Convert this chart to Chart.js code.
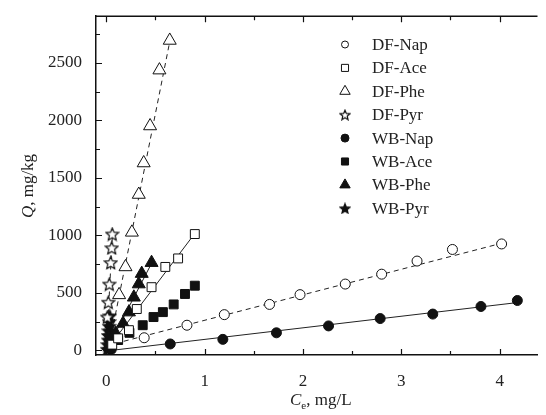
<!DOCTYPE html>
<html>
<head>
<meta charset="utf-8">
<script src="https://cdn.jsdelivr.net/npm/chart.js@4/dist/chart.umd.min.js"></script>
<style>
  html, body { margin: 0; padding: 0; background: #fff; }
  #wrap { width: 546px; height: 415px; position: relative; }
</style>
</head>
<body>
<div id="wrap"><canvas id="myChart" width="546" height="415"></canvas></div>
<script>
// data (Ce mg/L, Q mg/kg)
const dfNapX = [0.385, 0.82, 1.20, 1.66, 1.97, 2.43, 2.80, 3.16, 3.52, 4.02];
const dfNapY = [110, 219, 311, 400, 485, 577, 663, 777, 878, 926];
const dfAceX = [0.06, 0.12, 0.23, 0.31, 0.46, 0.60, 0.73, 0.90];
const dfAceY = [50, 105, 176, 360, 550, 726, 800, 1012];
const dfPheX = [0.13, 0.195, 0.26, 0.33, 0.38, 0.445, 0.54, 0.645];
const dfPheY = [483, 726, 1027, 1356, 1630, 1952, 2438, 2696];
const dfPyrX = [0.01, 0.02, 0.03, 0.045, 0.055, 0.06];
const dfPyrY = [290, 419, 577, 763, 892, 1012];
const wbNapX = [0.05, 0.65, 1.185, 1.73, 2.26, 2.785, 3.32, 3.81, 4.18];
const wbNapY = [8, 56, 96, 153, 213, 277, 316, 382, 434];
const wbAceX = [0.03, 0.12, 0.235, 0.37, 0.48, 0.575, 0.685, 0.80, 0.90];
const wbAceY = [30, 90, 153, 219, 290, 333, 400, 491, 563];
const wbPheX = [0.03, 0.06, 0.095, 0.17, 0.23, 0.28, 0.33, 0.36, 0.46];
const wbPheY = [40, 100, 148, 234, 333, 462, 577, 668, 763];
const wbPyrX = [0.01, 0.015, 0.02, 0.02, 0.025, 0.03, 0.03, 0.035];
const wbPyrY = [10, 50, 90, 130, 170, 210, 250, 300];

// fitted lines, two ends each
const fitDfNapX = [0, 4.02], fitDfNapY = [40, 932];
const fitWbNapX = [0, 4.22], fitWbNapY = [-5, 420];
const fitDfAceX = [0, 0.92], fitDfAceY = [0, 1040];
const fitDfPheX = [0.02, 0.66], fitDfPheY = [0, 2750];
const fitWbPheX = [0, 0.48], fitWbPheY = [0, 790];
const fitDfPyrX = [0, 0.065], fitDfPyrY = [0, 1050];
const fitWbPyrX = [0, 0.04], fitWbPyrY = [0, 320];

const xTicks = [0, 1, 2, 3, 4];
const yTicks = [0, 500, 1000, 1500, 2000, 2500];

const legendNames = ['DF-Nap', 'DF-Ace', 'DF-Phe', 'DF-Pyr', 'WB-Nap', 'WB-Ace', 'WB-Phe', 'WB-Pyr'];

const pts = (xs, ys) => xs.map((x, i) => ({ x: x, y: ys[i] }));

// 5 point star as a small canvas
function makeStar(size, filled) {
    const c = document.createElement('canvas');
    c.width = size; c.height = size;
    const g = c.getContext('2d');
    const cx = size / 2, cy = size / 2 + 0.6;
    const R = size / 2 - 0.8, r = R * 0.45;
    g.beginPath();
    for (let i = 0; i < 10; i++) {
        const rad = (i % 2 === 0) ? R : r;
        const a = -Math.PI / 2 + i * Math.PI / 5;
        const px = cx + rad * Math.cos(a), py = cy + rad * Math.sin(a);
        if (i === 0) g.moveTo(px, py); else g.lineTo(px, py);
    }
    g.closePath();
    g.fillStyle = filled ? '#111' : '#fff';
    g.fill();
    g.lineWidth = 1.2;
    g.strokeStyle = '#111';
    g.stroke();
    return c;
}
const starOpen = makeStar(15, false);
const starFilled = makeStar(15, true);
const starOpenSmall = makeStar(12, false);
const starFilledSmall = makeStar(12, true);

function markers(label, xs, ys, style, filled, radius) {
    return {
        label: label,
        data: pts(xs, ys),
        showLine: false,
        pointStyle: style,
        pointRadius: radius,
        pointBorderWidth: 1,
        pointBorderColor: '#111',
        pointBackgroundColor: filled ? '#111' : '#fff'
    };
}
function fitLine(xs, ys, dashed) {
    return {
        label: '',
        data: pts(xs, ys),
        showLine: true,
        pointRadius: 0,
        borderColor: '#222',
        borderWidth: 1,
        borderDash: dashed ? [5, 4] : []
    };
}

const legendStyles = [
    { style: 'circle', filled: false, radius: 3.5 },
    { style: 'rect', filled: false, radius: 5 },
    { style: 'triangle', filled: false, radius: 6 },
    { style: starOpenSmall, filled: false, radius: 5 },
    { style: 'circle', filled: true, radius: 4 },
    { style: 'rect', filled: true, radius: 5 },
    { style: 'triangle', filled: true, radius: 6 },
    { style: starFilledSmall, filled: true, radius: 5 }
];

// frame, inward ticks, axis titles, legend
const decorPlugin = {
    id: 'decor',
    afterDraw(chart) {
        const ctx = chart.ctx;
        const a = chart.chartArea;
        const xs = chart.scales.x, ys = chart.scales.y;
        ctx.save();
        ctx.strokeStyle = '#111';
        ctx.lineWidth = 1.5;
        ctx.beginPath();
        ctx.moveTo(a.left, a.top);
        ctx.lineTo(a.right, a.top);
        ctx.stroke();

        ctx.lineWidth = 1.2;
        ctx.beginPath();
        for (let v = 0; v <= 4.01; v += 0.5) {
            const px = Math.round(xs.getPixelForValue(v)) + 0.5;
            const len = (Math.abs(v - Math.round(v)) < 0.01) ? 6 : 4;
            ctx.moveTo(px, a.bottom); ctx.lineTo(px, a.bottom - len);
            ctx.moveTo(px, a.top); ctx.lineTo(px, a.top + len);
        }
        for (let v = 0; v <= 2750; v += 250) {
            const py = Math.round(ys.getPixelForValue(v)) + 0.5;
            const len = (v % 500 === 0) ? 6 : 4;
            ctx.moveTo(a.left, py); ctx.lineTo(a.left + len, py);
        }
        ctx.stroke();

        // axis titles
        ctx.fillStyle = '#222';
        ctx.textBaseline = 'alphabetic';
        ctx.textAlign = 'left';
        const italic = 'italic 17px "Liberation Serif"';
        const normal = '17px "Liberation Serif"';
        const small = '11px "Liberation Serif"';
        ctx.font = italic;
        const wC = ctx.measureText('C').width;
        ctx.font = small;
        const wE = ctx.measureText('e').width;
        ctx.font = normal;
        const wRest = ctx.measureText(', mg/L').width;
        let tx = (a.left + a.right) / 2 - (wC + wE + wRest) / 2 + 4;
        const ty = 405;
        ctx.font = italic; ctx.fillText('C', tx, ty); tx += wC;
        ctx.font = small; ctx.fillText('e', tx, ty + 4); tx += wE;
        ctx.font = normal; ctx.fillText(', mg/L', tx, ty);

        ctx.save();
        ctx.translate(33, 186);
        ctx.rotate(-Math.PI / 2);
        ctx.font = italic;
        const wQ = ctx.measureText('Q').width;
        ctx.font = normal;
        const wR = ctx.measureText(', mg/kg').width;
        let qx = -(wQ + wR) / 2;
        ctx.font = italic; ctx.fillText('Q', qx, 0); qx += wQ;
        ctx.font = normal; ctx.fillText(', mg/kg', qx, 0);
        ctx.restore();

        // legend
        ctx.textBaseline = 'middle';
        ctx.font = normal;
        legendNames.forEach((name, i) => {
            const y = 44.5 + i * 23.4;
            const s = legendStyles[i];
            ctx.fillStyle = s.filled ? '#111' : '#fff';
            ctx.strokeStyle = '#111';
            ctx.lineWidth = 1;
            Chart.helpers.drawPoint(ctx, { pointStyle: s.style, radius: s.radius, borderWidth: 1, rotation: 0 }, 345, y);
            ctx.fillStyle = '#222';
            ctx.fillText(name, 372, y + 1);
        });
        ctx.restore();
    }
};

const ctx = document.getElementById('myChart').getContext('2d');
const isoChart = new Chart(ctx, {
    type: 'scatter',
    data: {
        datasets: [
            markers('DF-Nap', dfNapX, dfNapY, 'circle', false, 5),
            markers('DF-Ace', dfAceX, dfAceY, 'rect', false, 6.3),
            markers('DF-Phe', dfPheX, dfPheY, 'triangle', false, 7.5),
            markers('DF-Pyr', dfPyrX, dfPyrY, starOpen, false, 6),
            markers('WB-Nap', wbNapX, wbNapY, 'circle', true, 5),
            markers('WB-Ace', wbAceX, wbAceY, 'rect', true, 6.3),
            markers('WB-Phe', wbPheX, wbPheY, 'triangle', true, 7.5),
            markers('WB-Pyr', wbPyrX, wbPyrY, starFilled, true, 6),
            fitLine(fitDfNapX, fitDfNapY, true),
            fitLine(fitWbNapX, fitWbNapY, false),
            fitLine(fitDfAceX, fitDfAceY, false),
            fitLine(fitDfPheX, fitDfPheY, true),
            fitLine(fitWbPheX, fitWbPheY, false),
            fitLine(fitDfPyrX, fitDfPyrY, true),
            fitLine(fitWbPyrX, fitWbPyrY, false)
        ]
    },
    options: {
        responsive: false,
        animation: false,
        layout: { padding: { top: 12, right: 1, left: 0, bottom: 0 } },
        plugins: {
            legend: { display: false },
            tooltip: { enabled: false }
        },
        scales: {
            x: {
                type: 'linear',
                min: -0.105,
                max: 4.385,
                afterBuildTicks: (scale) => { scale.ticks = xTicks.map(v => ({ value: v })); },
                afterFit: (scale) => { scale.height = 60; },
                grid: { display: false },
                border: { color: '#111', width: 1.5 },
                ticks: {
                    color: '#222',
                    padding: 8,
                    font: { family: 'Liberation Serif', size: 17 },
                    callback: (v) => String(v)
                }
            },
            y: {
                type: 'linear',
                min: -40,
                max: 2907,
                afterBuildTicks: (scale) => { scale.ticks = yTicks.map(v => ({ value: v })); },
                afterFit: (scale) => { scale.width = 96; },
                grid: { display: false },
                border: { color: '#111', width: 1.5 },
                ticks: {
                    color: '#222',
                    padding: 6,
                    font: { family: 'Liberation Serif', size: 17 },
                    callback: (v) => String(v)
                }
            }
        }
    },
    plugins: [decorPlugin]
});
</script>
</body>
</html>
